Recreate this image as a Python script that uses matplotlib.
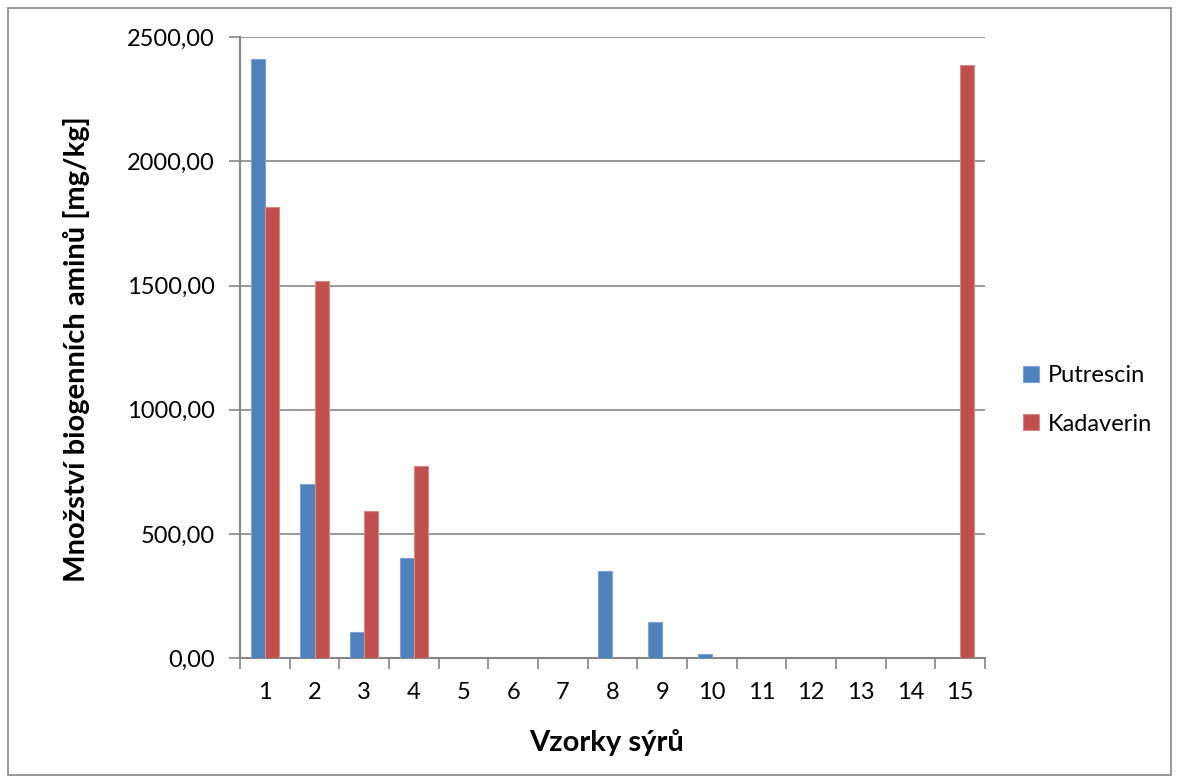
import numpy as np
import matplotlib
matplotlib.use('Agg')
import matplotlib.pyplot as plt
from matplotlib.patches import Rectangle

plt.rcParams['font.family'] = ['Lato', 'DejaVu Sans']

# data
samples = [str(i) for i in range(1, 16)]
putrescin = [2410, 702, 105, 405, 0, 0, 0, 351, 148, 17, 0, 0, 0, 0, 0]
kadaverin = [1817, 1518, 594, 774, 0, 0, 0, 0, 0, 0, 0, 3, 0, 0, 2388]
yticks = [0, 500, 1000, 1500, 2000, 2500]
ytick_labels = ['0,00', '500,00', '1000,00', '1500,00', '2000,00', '2500,00']

blue = '#4F81BD'
red = '#C0504D'
grid_col = '#868686'

fig = plt.figure(figsize=(11.79, 7.83), dpi=100)
ax = fig.add_axes([240/1179, 1 - 658.3/783, 745/1179, (658.3-37)/783])

x = np.arange(len(samples))
w = 0.286
ax.bar(x - w/2, putrescin, w, color=blue, edgecolor='#7FA3D4', linewidth=0.8, label='Putrescin', zorder=3)
ax.bar(x + w/2, kadaverin, w, color=red, edgecolor='#D98A88', linewidth=0.8, label='Kadaverin', zorder=3)

ax.set_xlim(-0.5, len(samples) - 0.5)
ax.set_ylim(0, 2500)
ax.set_yticks(yticks)
ax.set_yticklabels(ytick_labels)
ax.set_xticks(x)
ax.set_xticklabels(samples)
ax.set_xticks(np.arange(-0.5, len(samples)), minor=True)
ax.tick_params(axis='x', which='major', length=0, pad=17, labelsize=17)
ax.tick_params(axis='x', which='minor', length=8, width=1.2, color=grid_col, direction='out')
ax.tick_params(axis='y', length=8, width=1.2, color=grid_col, pad=10, labelsize=17)

ax.grid(axis='y', color=grid_col, linewidth=1.2, zorder=0)
for s in ['top', 'right']:
    ax.spines[s].set_visible(False)
for s in ['left', 'bottom']:
    ax.spines[s].set_color(grid_col)
    ax.spines[s].set_linewidth(1.5)

ax.set_xlabel('Vzorky sýrů', fontsize=21, fontweight='bold')
ax.xaxis.set_label_coords(607/1179, 1 - 742/783, transform=fig.transFigure)
ax.xaxis.label.set_va('center')
ax.set_ylabel('Množství biogenních aminů [mg/kg]', fontsize=21, fontweight='bold')
ax.yaxis.set_label_coords(77/1179, 1 - 349/783, transform=fig.transFigure)
ax.yaxis.label.set_va('center')

ax.legend(loc='center left', bbox_to_anchor=(1002/1179, 1 - 400/783), bbox_transform=fig.transFigure,
          frameon=False, fontsize=17, handlelength=0.65, handleheight=0.65,
          labelspacing=1.15, handletextpad=0.4)

# outer chart border
fig.patches.append(Rectangle((8/1179, 8/783), 1 - 16/1179, 1 - 16/783, transform=fig.transFigure,
                             fill=False, edgecolor=grid_col, linewidth=1.2))

fig.savefig('out.png', dpi=100)
